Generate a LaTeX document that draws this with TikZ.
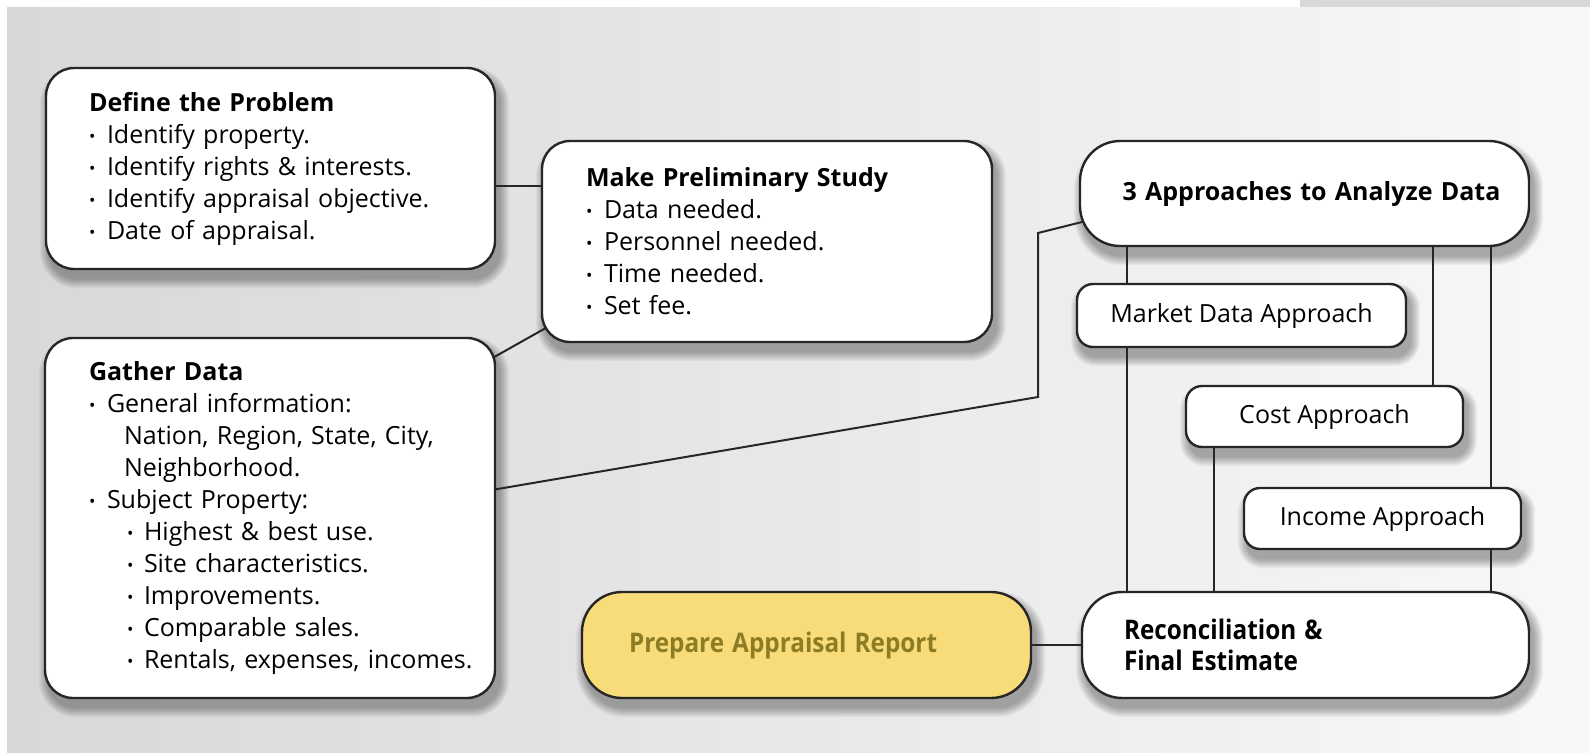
\documentclass[tikz,border=0pt]{standalone}
\usepackage{fontspec}
\setmainfont{Open Sans}
\usetikzlibrary{calc}
\definecolor{bord}{HTML}{262626}
\definecolor{bgl}{HTML}{D8D8D8}
\definecolor{bgr}{HTML}{F8F8F8}
\definecolor{yel}{HTML}{F9DC7A}
\definecolor{olive}{HTML}{8C7C24}
\newcommand{\bul}{\makebox[18pt][l]{\raisebox{1pt}{\fontsize{17}{17}\selectfont •}}}
\newcommand{\subbul}{\hspace*{38pt}\makebox[17pt][l]{\raisebox{1pt}{\fontsize{17}{17}\selectfont •}}}
\newcommand{\cond}[1]{\scalebox{0.9}[1]{#1}}
\newcommand{\oneline}[1]{\mbox{#1}}
\pgfdeclarelayer{bg}
\pgfdeclarelayer{shadow}
\pgfdeclarelayer{lines}
\pgfsetlayers{bg,shadow,lines,main}
\newcommand{\softshadow}[2]{%
  \begin{pgfonlayer}{shadow}
  \foreach \i in {0,...,9}{%
    \fill[black, opacity=0.035, rounded corners={#2+\i*1pt}]
      ($(#1.south west)+(4-\i,9+\i)$) rectangle ($(#1.north east)+(4+\i,9-\i)$);
  }
  \end{pgfonlayer}}
\tikzset{
  box/.style={draw=bord, line width=2.4pt, fill=white, rounded corners=28pt,
    font=\fontsize{25}{32}\selectfont, align=left, inner ysep=0pt},
  pill/.style={box, rounded corners=40pt},
  small/.style={box, rounded corners=16pt, align=center, inner xsep=0pt},
  conn/.style={draw=bord, line width=2pt},
}
\begin{document}
\begin{tikzpicture}[x=1pt,y=-1pt]
\useasboundingbox (0,0) rectangle (1590,753);
\begin{pgfonlayer}{bg}
  \foreach \i in {0,...,39}{%
    \pgfmathtruncatemacro{\pc}{\i*100/39}
    \fill[bgr!\pc!bgl] (\i*40,0) rectangle (\i*40+41,753);
  }
  \fill[white] (0,0) rectangle (7,753);
  \fill[white] (0,0) rectangle (1300,7);
  \fill[bgl] (1300,0) rectangle (1590,7);
\end{pgfonlayer}

% boxes
\node[box, minimum width=449pt, minimum height=201pt, text width=363pt, inner xsep=43pt] (define) at (270.5,168.5)
  {\oneline{\textbf{Define the Problem}}\\
   \oneline{\bul Identify property.}\\
   \oneline{\bul Identify rights \& interests.}\\
   \oneline{\bul Identify appraisal objective.}\\
   \oneline{\bul Date of appraisal.}};

\node[box, minimum width=450pt, minimum height=201pt, text width=362pt, inner xsep=44pt] (prelim) at (767,241.5)
  {\oneline{\textbf{Make Preliminary Study}}\\
   \oneline{\bul Data needed.}\\
   \oneline{\bul Personnel needed.}\\
   \oneline{\bul Time needed.}\\
   \oneline{\bul Set fee.}};

\node[box, minimum width=450pt, minimum height=360pt, text width=362pt, inner xsep=44pt] (gather) at (270,518)
  {\oneline{\textbf{Gather Data}}\\
   \oneline{\bul General information:}\\
   \oneline{\hspace*{35pt}Nation, Region, State, City,}\\
   \oneline{\hspace*{35pt}Neighborhood.}\\
   \oneline{\bul Subject Property:}\\
   \oneline{\subbul Highest \& best use.}\\
   \oneline{\subbul Site characteristics.}\\
   \oneline{\subbul Improvements.}\\
   \oneline{\subbul Comparable sales.}\\
   \oneline{\subbul Rentals, expenses, incomes.}};

\node[pill, minimum width=449pt, minimum height=105pt, text width=409pt, inner xsep=20pt, align=center] (appr) at (1304.5,193.5)
  {\hspace*{14pt}\textbf{3 Approaches to Analyze Data}};

\node[small, minimum width=329pt, minimum height=63pt] (market) at (1241.5,315.5) {Market Data Approach};
\node[small, minimum width=277pt, minimum height=61pt] (cost) at (1324.5,416.5) {Cost Approach};
\node[small, minimum width=277pt, minimum height=61pt] (income) at (1382.5,518.5) {Income Approach};

\node[pill, fill=yel, minimum width=449pt, minimum height=106pt, text width=355pt, inner xsep=47pt, font=\fontsize{27}{32}\selectfont] (report) at (806.5,645)
  {\textcolor{olive}{\cond{\textbf{Prepare Appraisal Report}}}};

\node[pill, minimum width=447pt, minimum height=106pt, text width=363pt, inner xsep=42pt, font=\fontsize{27}{31}\selectfont] (recon) at (1305.5,645)
  {\cond{\textbf{Reconciliation \&}}\\ \cond{\textbf{Final Estimate}}};

\softshadow{define}{28pt}
\softshadow{prelim}{28pt}
\softshadow{gather}{28pt}
\softshadow{appr}{40pt}
\softshadow{market}{16pt}
\softshadow{cost}{16pt}
\softshadow{income}{16pt}
\softshadow{report}{40pt}
\softshadow{recon}{40pt}

% connectors
\coordinate (dp) at (0,186);
\coordinate (g1) at (480,492);
\coordinate (k1) at (1038,397);
\coordinate (k2) at (1038,233);
\coordinate (a1) at (1090,220);
\coordinate (gp1) at (480,365);
\coordinate (gp2) at (560,320);
\coordinate (v1) at (1127,0);
\coordinate (v2) at (1433,0);
\coordinate (v3) at (1491,0);
\coordinate (v4) at (1214,0);
\coordinate (rr) at (0,645);
\begin{pgfonlayer}{lines}
  \draw[conn] (define.east |- dp) -- (prelim.west |- dp);
  \draw[conn] (gp1) -- (gp2);
  \draw[conn] (g1) -- (k1) -- (k2) -- (a1);
  \draw[conn] (appr.south -| v1) -- (recon.north -| v1);
  \draw[conn] (appr.south -| v2) -- (cost.north -| v2);
  \draw[conn] (appr.south -| v3) -- (recon.north -| v3);
  \draw[conn] (cost.south -| v4) -- (recon.north -| v4);
  \draw[conn] (report.east |- rr) -- (recon.west |- rr);
\end{pgfonlayer}
\end{tikzpicture}
\end{document}
